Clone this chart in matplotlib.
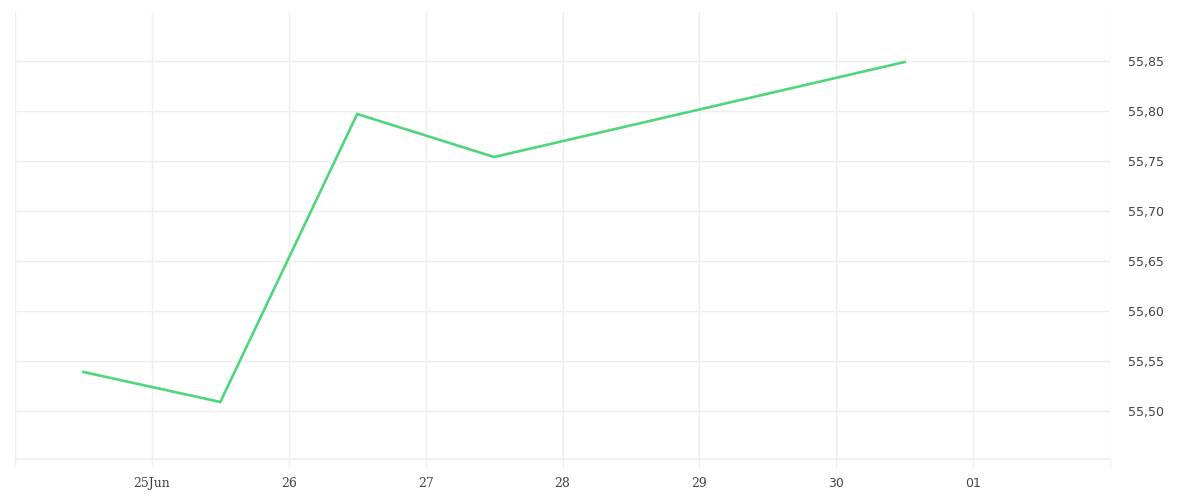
import datetime as dt
import matplotlib
matplotlib.use("Agg")
import matplotlib.pyplot as plt
import matplotlib.ticker as mtick

# data
dates = [dt.datetime(2024, 6, 24, 12), dt.datetime(2024, 6, 25, 12),
         dt.datetime(2024, 6, 26, 12), dt.datetime(2024, 6, 27, 12),
         dt.datetime(2024, 6, 30, 12)]
values = [55.539, 55.509, 55.797, 55.754, 55.849]
tick_days = [dt.datetime(2024, 6, d) for d in range(24, 31)] + [dt.datetime(2024, 7, 1), dt.datetime(2024, 7, 2)]
tick_labels = ["", "25Jun", "26", "27", "28", "29", "30", "01", ""]
yticks = [55.50, 55.55, 55.60, 55.65, 55.70, 55.75, 55.80, 55.85]

grid_col = "#eeeeee"
txt_col = "#444444"

fig = plt.figure(figsize=(12, 5), dpi=100)
ax = fig.add_axes([0.0125, 0.082, 0.9125, 0.894])

ax.plot(dates, values, color="#4fd57b", lw=1.9, solid_joinstyle="miter")

ax.set_xlim(dt.datetime(2024, 6, 24), dt.datetime(2024, 7, 2))
ax.set_ylim(55.452, 55.899)

ax.set_xticks(tick_days)
ax.set_xticklabels(tick_labels)
ax.set_yticks(yticks)
ax.yaxis.set_major_formatter(mtick.FuncFormatter(lambda v, p: f"{v:.2f}".replace(".", ",")))
ax.yaxis.tick_right()

ax.grid(True, color=grid_col, lw=1)
for s in ax.spines.values():
    s.set_visible(False)
ax.axhline(55.452, color=grid_col, lw=1.2, clip_on=False)

ax.tick_params(axis="x", length=6, color=grid_col, width=1, pad=7, labelsize=9, labelcolor=txt_col)
ax.tick_params(axis="y", length=0, pad=13, labelsize=9, labelcolor=txt_col)
for lab in ax.get_xticklabels():
    if lab.get_text() in ("30", "01"):
        lab.set_family("DejaVu Sans")
    else:
        lab.set_family("DejaVu Serif")
for lab in ax.get_yticklabels():
    lab.set_family("DejaVu Sans")

fig.savefig("out.png", dpi=100)
